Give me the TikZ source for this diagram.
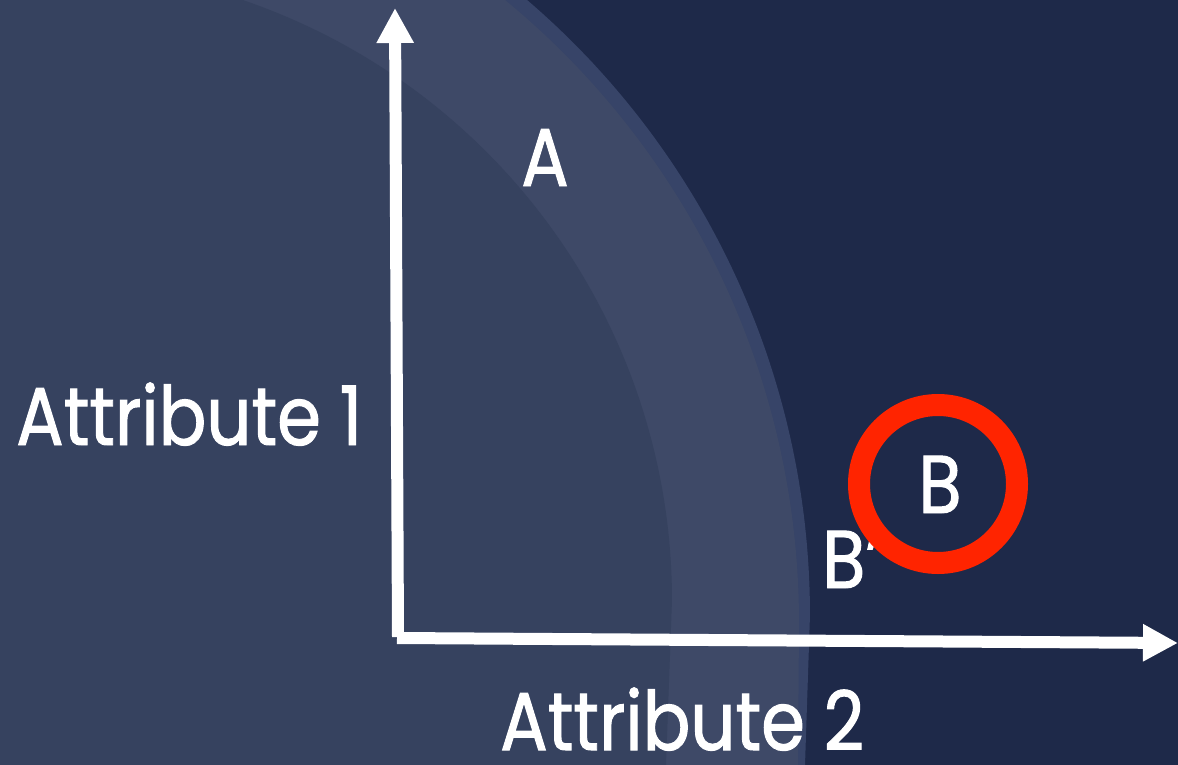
\documentclass[tikz,border=0pt]{standalone}
\usepackage{fontspec}
\setmainfont{Poppins}[FakeStretch=0.86,FakeBold=1.2]
\usetikzlibrary{arrows.meta}
\definecolor{night}{HTML}{1E2949}
\definecolor{core}{HTML}{36425F}
\definecolor{band}{HTML}{3E4967}
\definecolor{rim}{HTML}{374468}
\definecolor{hot}{HTML}{FF2400}

\begin{document}
\begin{tikzpicture}[x=1pt,y=-1pt,
  lbl/.style={text=white,inner sep=0pt,font=\fontsize{82}{82}\selectfont},
  axis/.style={white,line width=12pt,-{Triangle[length=35pt,width=35pt]}},
  ring/.style={circle,draw=hot,line width=22pt,minimum size=158pt,inner sep=0pt}]
\useasboundingbox (0,0) rectangle (1178,765);
% backdrop and the soft region
\fill[night] (0,0) rectangle (1178,765);
\fill[rim] (0,0) -- plot[domain=50:0,samples=80] ({810*cos(\x)},{615-810*sin(\x)}) -- (805,765) -- (0,765) -- cycle;
\fill[band] (0,0) -- plot[domain=51:0,samples=80] ({-6+805*cos(\x)},{622-805*sin(\x)}) -- (798,765) -- (0,765) -- cycle;
\fill[core] (0,0) -- plot[domain=72:0,samples=80] ({38+634*cos(\x)},{600-634*sin(\x)}) -- (666,765) -- (0,765) -- cycle;
% axes
\coordinate (o) at (398,637);
\coordinate (ytip) at (395,8);
\coordinate (xo) at (397,638);
\coordinate (xtip) at (1178,643);
\draw[axis] (o) -- (ytip);
\draw[axis] (xo) -- (xtip);
% labels
\node[lbl,anchor=base west] (attr1) at (16,445) {Attribute 1};
\node[lbl,anchor=base west] (attr2) at (500,750) {Attribute 2};
\node[lbl,anchor=base] (pa) at (545,186) {A};
\node[lbl,anchor=base west] (pbb) at (822,588) {B'};
\node[ring] (hl) at (938,484) {};
\node[lbl,anchor=base] (pb) at (940,513) {B};
\end{tikzpicture}
\end{document}
